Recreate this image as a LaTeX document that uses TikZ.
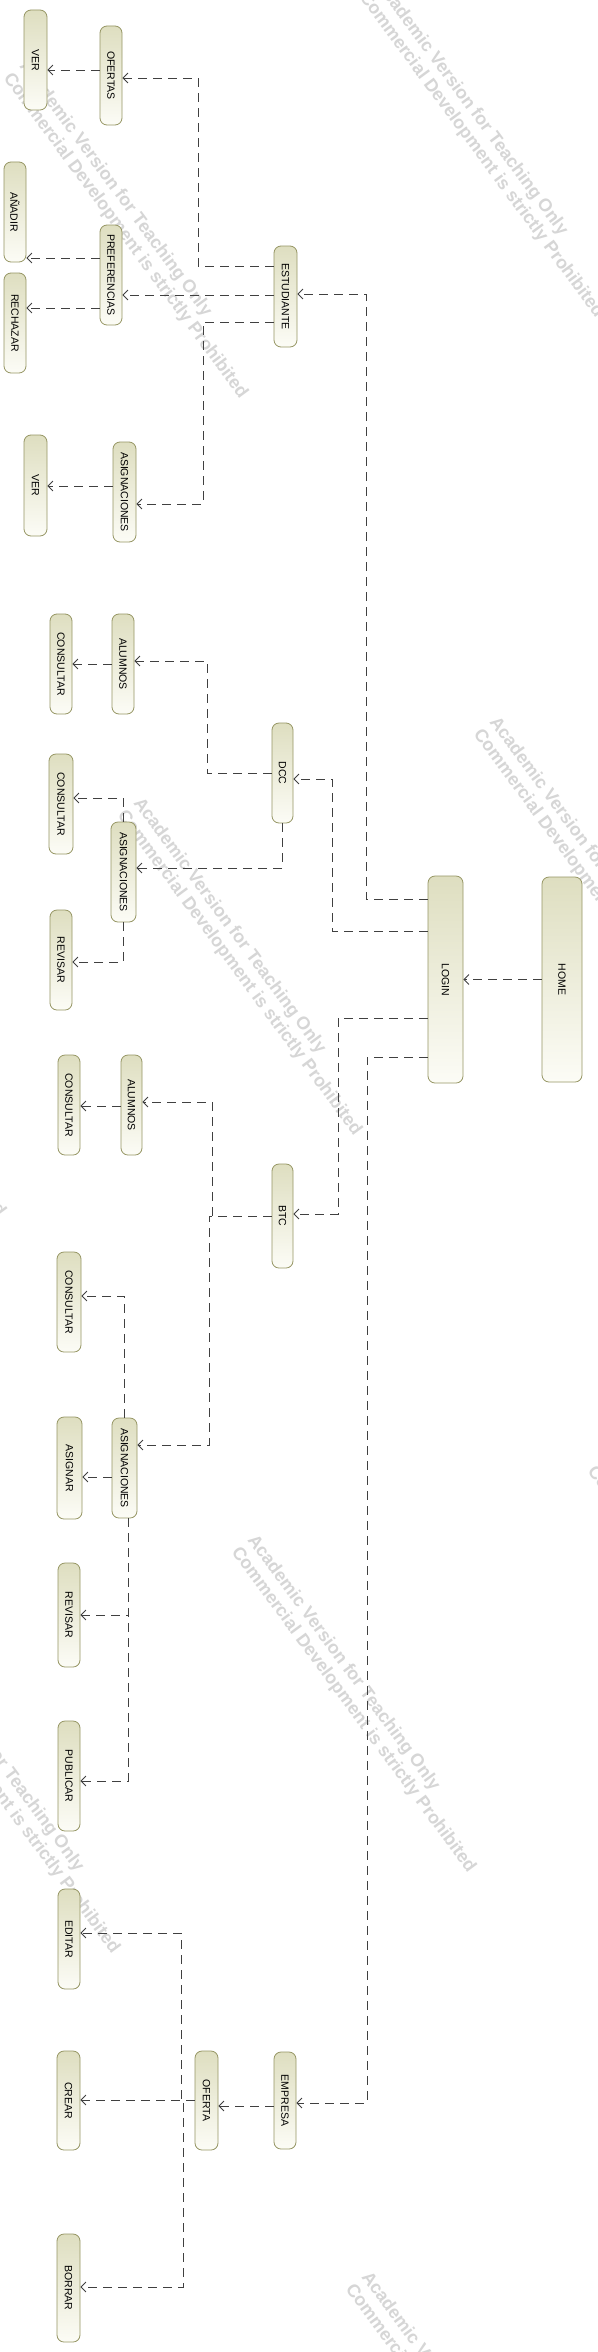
\documentclass[tikz,border=0pt]{standalone}
\usepackage{fontspec}
\usetikzlibrary{arrows.meta}
\newfontfamily\libsans{Liberation Sans}
\definecolor{boxborder}{RGB}{150,150,100}
\definecolor{boxtop}{RGB}{222,222,192}
\definecolor{boxbot}{RGB}{252,252,246}
\definecolor{linegray}{RGB}{64,64,64}
\definecolor{wmgray}{RGB}{214,214,214}
\newcommand\wmark[3]{%
  \node[wm] (#1a) at (#2,#3) {Academic Version for Teaching Only};
  \node[wm] (#1b) at (#2-16,#3+12) {Commercial Development is strictly Prohibited};}
\newcommand\vt[1]{\rotatebox{-90}{#1}}
\begin{document}
\begin{tikzpicture}[x=1pt,y=-1pt,
  uc/.style={draw=boxborder, line width=0.8pt, rounded corners=7pt,
    top color=boxtop, bottom color=boxbot, inner sep=0pt,
    font=\libsans\fontsize{10.5}{12}\selectfont, text=black},
  dep/.style={draw=linegray, line width=0.8pt, dash pattern=on 9pt off 6pt,
    -{Straight Barb[length=5pt,width=10pt,line width=0.8pt]}},
  wm/.style={font=\libsans\bfseries\fontsize{18}{20}\selectfont, text=wmgray,
    rotate=-53.6, inner sep=0pt, anchor=base west}]
\useasboundingbox (0,0) rectangle (597,2352);
\fill[white] (0,0) rectangle (597,2352);
\begin{scope}
\clip (0,0) rectangle (597,2352);
\wmark{wa}{375}{-15}
\wmark{wb}{19}{66}
\wmark{wc}{133}{803}
\wmark{wd}{489}{722}
\wmark{we}{247}{1540}
\wmark{wf}{-109}{1621}
\wmark{wg}{361}{2277}
\wmark{wh}{5}{2358}
\wmark{wi}{603}{1459}
\wmark{wj}{-223}{884}
\end{scope}

% nodes
\node[uc, minimum width=23pt, minimum height=100pt] (ver1) at (35.5,60) {\vt{VER}};
\node[uc, minimum width=22pt, minimum height=99pt] (ofertas) at (111,75.5) {\vt{OFERTAS}};
\node[uc, minimum width=22pt, minimum height=100pt] (anadir) at (15,212) {\vt{AÑADIR}};
\node[uc, minimum width=22pt, minimum height=100pt] (preferencias) at (111,275) {\vt{PREFERENCIAS}};
\node[uc, minimum width=22pt, minimum height=100pt] (rechazar) at (15,323) {\vt{RECHAZAR}};
\node[uc, minimum width=23pt, minimum height=101pt] (estudiante) at (285.5,296.5) {\vt{ESTUDIANTE}};
\node[uc, minimum width=23pt, minimum height=101pt] (ver2) at (35.5,485.5) {\vt{VER}};
\node[uc, minimum width=23pt, minimum height=100pt] (asig1) at (124.5,492) {\vt{ASIGNACIONES}};
\node[uc, minimum width=22pt, minimum height=100pt] (consultar1) at (61,664) {\vt{CONSULTAR}};
\node[uc, minimum width=22pt, minimum height=100pt] (alumnos1) at (123,664) {\vt{ALUMNOS}};
\node[uc, minimum width=21pt, minimum height=100pt] (dcc) at (282.5,773) {\vt{DCC}};
\node[uc, minimum width=24pt, minimum height=100pt] (consultar2) at (61,804) {\vt{CONSULTAR}};
\node[uc, minimum width=25pt, minimum height=100pt] (asig2) at (123.5,872) {\vt{ASIGNACIONES}};
\node[uc, minimum width=22pt, minimum height=100pt] (revisar1) at (61,960) {\vt{REVISAR}};
\node[uc, minimum width=35pt, minimum height=207pt] (login) at (445.5,979.5) {\vt{LOGIN}};
\node[uc, minimum width=40pt, minimum height=205pt] (home) at (562,979.5) {\vt{HOME}};
\node[uc, minimum width=22pt, minimum height=100pt] (consultar3) at (69,1105) {\vt{CONSULTAR}};
\node[uc, minimum width=21pt, minimum height=100pt] (alumnos2) at (131.5,1105) {\vt{ALUMNOS}};
\node[uc, minimum width=21pt, minimum height=104pt] (btc) at (282.5,1216) {\vt{BTC}};
\node[uc, minimum width=24pt, minimum height=100pt] (consultar4) at (69,1302) {\vt{CONSULTAR}};
\node[uc, minimum width=25pt, minimum height=100pt] (asig3) at (124.5,1468) {\vt{ASIGNACIONES}};
\node[uc, minimum width=25pt, minimum height=102pt] (asignar) at (69.5,1468) {\vt{ASIGNAR}};
\node[uc, minimum width=22pt, minimum height=104pt] (revisar2) at (69,1615) {\vt{REVISAR}};
\node[uc, minimum width=22pt, minimum height=110pt] (publicar) at (69,1776) {\vt{PUBLICAR}};
\node[uc, minimum width=22pt, minimum height=100pt] (editar) at (69,1939) {\vt{EDITAR}};
\node[uc, minimum width=23pt, minimum height=99pt] (crear) at (68.5,2100.5) {\vt{CREAR}};
\node[uc, minimum width=23pt, minimum height=108pt] (borrar) at (68.5,2288) {\vt{BORRAR}};
\node[uc, minimum width=23pt, minimum height=99pt] (oferta) at (206.5,2100.5) {\vt{OFERTA}};
\node[uc, minimum width=22pt, minimum height=97pt] (empresa) at (285,2100.5) {\vt{EMPRESA}};

% connectors
\draw[dep] (ofertas.west |- 0,70) -- (ver1.east |- 0,70);
\draw[dep] (estudiante.west |- 0,266) -- (198,266) -- (198,78) -- (ofertas.east |- 0,78);
\draw[dep] (estudiante.west |- 0,295) -- (preferencias.east |- 0,295);
\draw[dep] (estudiante.west |- 0,322) -- (203,322) -- (203,504) -- (asig1.east |- 0,504);
\draw[dep] (preferencias.west |- 0,258) -- (anadir.east |- 0,258);
\draw[dep] (preferencias.west |- 0,308) -- (rechazar.east |- 0,308);
\draw[dep] (asig1.west |- 0,486) -- (ver2.east |- 0,486);
\draw[dep] (login.west |- 0,899) -- (366,899) -- (366,294) -- (estudiante.east |- 0,294);
\draw[dep] (login.west |- 0,931) -- (332,931) -- (332,779) -- (dcc.east |- 0,779);
\draw[dep] (dcc.west |- 0,773) -- (207,773) -- (207,661) -- (alumnos1.east |- 0,661);
\draw[dep] (alumnos1.west |- 0,664) -- (consultar1.east |- 0,664);
\draw[dep] (dcc.south) -- (dcc.south |- 0,868) -- (asig2.east |- 0,868);
\draw[dep] (asig2.north) -- (asig2.north |- 0,798) -- (consultar2.east |- 0,798);
\draw[dep] (asig2.south) -- (asig2.south |- 0,962) -- (revisar1.east |- 0,962);
\draw[dep] (home.west) -- (login.east);
\draw[dep] (login.west |- 0,1018) -- (338,1018) -- (338,1214) -- (btc.east |- 0,1214);
\draw[dep] (login.west |- 0,1057) -- (367,1057) -- (367,2103) -- (empresa.east |- 0,2103);
\draw[dep] (btc.west |- 0,1216) -- (212,1216) -- (212,1102) -- (alumnos2.east |- 0,1102);
\draw[dep] (btc.west |- 0,1216) -- (209,1216) -- (209,1445) -- (asig3.east |- 0,1445);
\draw[dep] (alumnos2.west |- 0,1106) -- (consultar3.east |- 0,1106);
\draw[dep] (asig3.north) -- (asig3.north |- 0,1296) -- (consultar4.east |- 0,1296);
\draw[dep] (asig3.west |- 0,1477) -- (asignar.east |- 0,1477);
\draw[dep] ([xshift=3.5pt]asig3.south) -- ([xshift=3.5pt]asig3.south |- 0,1615) -- (revisar2.east |- 0,1615);
\draw[dep] ([xshift=3.5pt]asig3.south) -- ([xshift=3.5pt]asig3.south |- 0,1781) -- (publicar.east |- 0,1781);
\draw[dep] (empresa.west |- 0,2106) -- (oferta.east |- 0,2106);
\draw[dep] (oferta.west |- 0,2100) -- (181,2100) -- (181,1933) -- (editar.east |- 0,1933);
\draw[dep] (oferta.west |- 0,2100) -- (crear.east |- 0,2100);
\draw[dep] (oferta.west |- 0,2100) -- (183,2100) -- (183,2287) -- (borrar.east |- 0,2287);
\end{tikzpicture}
\end{document}
